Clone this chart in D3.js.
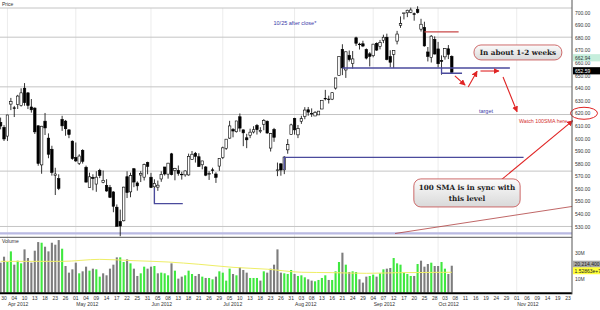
<!DOCTYPE html>
<html>
<head>
<meta charset="utf-8">
<script src="https://cdn.jsdelivr.net/npm/d3@7"></script>
<style>
  body { margin: 0; background: #fff; }
  text { font-family: "Liberation Sans", Arial, sans-serif; }
</style>
</head>
<body>
<svg></svg>
<script>
// trading days shown on the x axis (2012), past bars plus the projected days to Nov 23
var dates = [
  "3/29","3/30",
  "4/2","4/3","4/4","4/5","4/9","4/10","4/11","4/12","4/13","4/16","4/17","4/18","4/19","4/20","4/23","4/24","4/25","4/26","4/27","4/30",
  "5/1","5/2","5/3","5/4","5/7","5/8","5/9","5/10","5/11","5/14","5/15","5/16","5/17","5/18","5/21","5/22","5/23","5/24","5/25","5/29","5/30","5/31",
  "6/1","6/4","6/5","6/6","6/7","6/8","6/11","6/12","6/13","6/14","6/15","6/18","6/19","6/20","6/21","6/22","6/25","6/26","6/27","6/28","6/29",
  "7/2","7/3","7/5","7/6","7/9","7/10","7/11","7/12","7/13","7/16","7/17","7/18","7/19","7/20","7/23","7/24","7/25","7/26","7/27","7/30","7/31",
  "8/1","8/2","8/3","8/6","8/7","8/8","8/9","8/10","8/13","8/14","8/15","8/16","8/17","8/20","8/21","8/22","8/23","8/24","8/27","8/28","8/29","8/30","8/31",
  "9/4","9/5","9/6","9/7","9/10","9/11","9/12","9/13","9/14","9/17","9/18","9/19","9/20","9/21","9/24","9/25","9/26","9/27","9/28",
  "10/1","10/2","10/3","10/4","10/5","10/8","10/9","10/10","10/11","10/12","10/15","10/16","10/17","10/18","10/19","10/22","10/23","10/24","10/25","10/26","10/29","10/30","10/31",
  "11/1","11/2","11/5","11/6","11/7","11/8","11/9","11/12","11/13","11/14","11/15","11/16","11/19","11/20","11/21","11/23"
];

var open = [612.78,608.77,601.83,627.30,624.35,626.98,626.13,639.93,636.20,625.00,624.11,610.06,578.94,613.72,600.22,591.38,570.61,568.00,615.06,613.76,606.81,597.80,
  584.90,580.09,590.50,577.08,561.00,569.00,563.70,574.57,565.00,562.57,561.00,557.46,545.31,533.96,534.50,569.55,557.50,575.87,564.59,570.90,569.20,580.74,
  569.16,561.50,561.27,567.77,577.29,571.60,587.72,574.46,574.52,571.24,571.00,570.96,583.40,588.21,585.44,579.04,577.30,571.67,575.00,571.71,578.00,
  584.73,592.16,600.24,607.09,605.30,617.22,606.81,600.50,602.55,605.12,610.36,605.35,611.28,613.67,592.31,607.09,574.46,579.76,575.01,590.92,603.23,
  615.91,602.84,613.63,617.29,622.77,619.39,617.85,618.71,623.39,631.87,631.30,631.21,640.00,650.01,670.82,654.42,666.11,659.51,679.99,674.98,675.25,670.64,667.25,
  665.76,675.57,673.17,678.05,680.45,665.11,666.85,677.37,689.96,699.35,699.88,700.26,699.16,702.41,686.86,688.26,668.74,664.29,678.75,
  671.16,661.81,664.86,671.25,665.20];
var high = [616.56,610.56,618.77,632.21,625.86,634.66,639.84,644.00,636.87,631.33,624.70,610.28,610.00,620.25,604.00,594.16,576.67,571.48,618.00,614.69,607.25,598.40,
  596.76,587.40,591.40,578.36,572.77,571.50,573.88,575.88,574.47,567.55,563.00,558.00,547.50,543.41,561.54,573.88,572.80,576.50,565.85,574.00,579.99,581.50,
  572.65,567.50,566.47,573.85,577.32,580.58,588.50,576.62,578.48,573.50,574.62,587.89,590.00,589.25,588.22,582.19,578.00,573.93,576.74,573.12,584.00,
  593.47,599.43,614.00,608.23,613.90,619.87,607.00,603.65,607.72,609.68,611.50,608.92,615.35,614.23,604.34,608.37,580.80,580.40,585.83,599.44,611.70,
  616.40,610.69,617.98,624.87,625.00,623.88,621.73,621.76,630.00,638.61,634.00,636.76,648.19,665.15,674.88,669.00,669.90,669.48,680.87,676.10,677.67,671.55,668.60,
  675.14,676.35,678.29,682.48,683.29,670.10,669.90,685.50,696.98,699.80,702.33,703.99,700.06,705.07,695.12,692.78,672.69,682.17,681.11,
  676.75,666.00,671.86,674.25,666.00];
var low = [607.23,597.94,598.02,622.51,617.00,623.40,625.30,626.00,623.34,620.50,603.51,578.25,571.91,602.71,584.24,570.42,555.00,558.92,606.00,602.13,600.21,583.00,
  581.23,578.86,580.00,565.17,561.00,558.73,557.55,568.44,564.35,557.60,552.59,541.30,530.12,522.18,534.05,552.58,553.23,561.23,558.47,565.31,566.56,571.46,
  560.52,548.50,558.33,565.50,570.50,568.00,570.63,566.70,570.38,567.26,569.55,570.37,583.10,580.80,577.44,575.42,570.00,567.00,571.92,564.62,574.25,
  583.60,590.88,599.70,600.89,604.70,605.31,593.85,592.27,600.21,603.96,603.08,604.18,606.51,603.76,589.58,597.30,570.00,570.36,571.59,587.82,603.00,
  603.00,600.25,611.56,615.26,618.04,617.10,617.80,618.70,623.25,630.21,627.75,630.50,638.81,649.90,650.33,648.11,661.15,655.55,673.54,670.67,672.60,662.85,657.25,
  664.50,669.60,670.80,675.77,662.10,656.50,656.00,674.77,687.89,694.61,696.42,699.57,693.62,699.36,685.00,673.00,661.20,660.35,666.75,
  656.50,650.66,662.63,663.07,651.28];
var close = [609.86,599.55,618.63,629.32,624.31,633.68,636.23,628.44,626.20,622.77,605.23,580.13,609.70,608.34,587.44,572.98,571.70,560.28,610.00,607.70,603.00,583.98,
  582.13,585.98,581.82,565.25,569.48,568.18,569.18,570.52,566.71,558.22,553.17,546.08,530.12,530.38,561.28,556.97,570.56,565.32,562.29,572.27,579.17,577.73,
  560.99,564.29,562.83,571.46,571.72,580.32,571.17,576.16,572.16,571.53,574.13,585.78,587.41,585.74,577.67,582.10,570.77,572.02,574.50,569.05,584.00,
  592.52,599.41,609.94,605.88,613.89,608.21,604.43,598.90,604.97,606.91,606.94,606.26,614.32,604.30,603.83,600.92,574.97,574.88,585.16,595.03,610.76,
  606.81,607.79,615.70,622.55,620.91,619.86,620.73,621.70,630.00,631.69,630.83,636.34,648.11,665.15,656.06,668.87,662.63,663.22,675.68,674.80,673.47,663.87,665.24,
  674.97,670.23,676.27,680.44,662.74,660.59,669.79,682.98,691.28,699.78,701.91,702.10,698.70,700.09,690.79,673.54,665.18,681.32,667.10,
  659.39,661.31,671.45,666.80,652.59];
// volume in millions of shares
var volume = [22.5,27,23,31,21,24,22,32.5,26,22.5,31.5,38,37.5,34.5,31,37.5,36,39.5,33,20,15,17.5,
  22.5,14.5,16,19.5,16.5,18,17.5,12,14.5,13,18,21,26.5,26.5,23,25,22,18,12.5,14.5,19.5,18,
  19.5,20,14.5,15,14.5,13,22,16.5,10.5,12,13,16.5,14,12.5,14,12,11,11,10,12,16,
  15,9,18,14,13,19,17,15,11,11,11,9,16,15,18,21,32.5,15,14.5,14,17,
  14,12.5,13,11.5,10,9,8.5,9.5,11,13,9.5,9.5,16,23,30,21,15.5,16,15.5,10,7.5,12,12.5,
  13.5,12,14.5,17.5,18,18.5,26,22,21,15,14,12.5,12.5,21.5,24,19.5,21.5,22.5,20,
  20,23,18,14,20.21];
// volume moving average, read at a few days (day index, millions)
var volMaDay = [0, 18, 29, 39, 49, 58, 68, 78, 88, 97, 107, 117, 132];
var volMa = [23.5, 23.5, 25, 24, 23, 21.3, 19, 17.6, 15.3, 15, 14.5, 15, 15.29];

var priceTicks = d3.range(530, 701, 10);
var volTicks = [10, 30];
var priceTags = [662.94, 652.59];
var lastVolume = 20214400, lastVolMa = 15286300;

// drawn annotations, in (day index, price)
var hLevels = [680.5, 641, 619, 574, 530];
var blueLines = [
  [[100, 656], [149, 656]],
  [[129, 656], [129, 651.8], [135, 651.8]],
  [[83, 575], [83, 585], [153, 585]],
  [[45, 560.6], [45, 548.1], [53.3, 548.1]]
];
var redLine = [[124, 684.7], [134, 684.7]];
var redArrows = [
  [[132.9, 649.7], [135.9, 642.4]],
  [[136.8, 640.9], [139.4, 653.4]],
  [[140.4, 653.6], [145.8, 653.6]],
  [[147.0, 648.9], [151.1, 621.2]],
  [[146.1, 566.2], [167.4, 614.2]]
];
var trendLine = [[115.4, 524.4], [167.2, 545.9]];

var svg = d3.select("svg").attr("width", 600).attr("height", 310);
var n = dates.length;
var parse = d3.timeParse("%m/%d/%Y");
var days = dates.map(function (s) { return parse(s + "/2012"); });

var xb = d3.scaleBand().domain(d3.range(n)).range([-1.1, 569.7]);
var xi = d3.scaleLinear().domain([0, n - 1])
  .range([xb(0) + xb.bandwidth() / 2, xb(n - 1) + xb.bandwidth() / 2]);
var y = d3.scaleLinear().domain([524.8, 703.7]).range([233, 8]);
var yv = d3.scaleLinear().domain([0, 40]).range([292.6, 239.4]);

var defs = svg.append("defs");
defs.append("marker").attr("id", "ah").attr("viewBox", "0 0 10 10")
  .attr("refX", 9).attr("refY", 5).attr("markerWidth", 5.5).attr("markerHeight", 5.5)
  .attr("orient", "auto")
  .append("path").attr("d", "M0,0L10,5L0,10z").attr("fill", "#e02424");
var grad = defs.append("linearGradient").attr("id", "boxg")
  .attr("x1", 0).attr("y1", 0).attr("x2", 0).attr("y2", 1);
grad.append("stop").attr("offset", "0%").attr("stop-color", "#fbfbfb");
grad.append("stop").attr("offset", "100%").attr("stop-color", "#d9d9d9");

// month grid lines
var monthStarts = d3.range(1, n).filter(function (i) { return days[i].getMonth() != days[i - 1].getMonth(); });
svg.append("g").selectAll("line").data(monthStarts).join("line")
  .attr("x1", function (i) { return xi(i); }).attr("x2", function (i) { return xi(i); })
  .attr("y1", 8).attr("y2", 292).attr("stroke", "#ececec");

// horizontal level lines
svg.append("g").selectAll("line").data(hLevels).join("line")
  .attr("x1", 0).attr("x2", 572).attr("y1", function (d) { return y(d); }).attr("y2", function (d) { return y(d); })
  .attr("stroke", "#c4c4c4");
svg.append("line").attr("x1", 0).attr("x2", 572).attr("y1", 8).attr("y2", 8).attr("stroke", "#c4c4c4");
svg.append("line").attr("x1", 0).attr("x2", 572).attr("y1", 233.3).attr("y2", 233.3)
  .attr("stroke", "#b9b9e2").attr("stroke-width", 2.2);

svg.append("text").attr("x", 2).attr("y", 6).attr("font-size", 5).attr("fill", "#333").text("Price");

// candles
var candles = close.map(function (c, i) { return { i: i, o: open[i], h: high[i], l: low[i], c: c }; });
var cg = svg.append("g");
cg.selectAll("line").data(candles).join("line")
  .attr("x1", function (d) { return xi(d.i); }).attr("x2", function (d) { return xi(d.i); })
  .attr("y1", function (d) { return y(d.h); }).attr("y2", function (d) { return y(d.l); })
  .attr("stroke", "#000").attr("stroke-width", 0.8);
var bw = 2.5;
cg.selectAll("rect").data(candles).join("rect")
  .attr("x", function (d) { return xi(d.i) - bw / 2; })
  .attr("y", function (d) { return y(Math.max(d.o, d.c)); })
  .attr("width", bw)
  .attr("height", function (d) { return Math.max(0.6, Math.abs(y(d.o) - y(d.c))); })
  .attr("fill", function (d) { return d.c >= d.o ? "#fff" : "#000"; })
  .attr("stroke", "#000").attr("stroke-width", 0.6);

// annotations
var line = d3.line().x(function (p) { return xi(p[0]); }).y(function (p) { return y(p[1]); });
svg.append("g").selectAll("path").data(blueLines).join("path")
  .attr("d", line).attr("fill", "none").attr("stroke", "#4a4a9c").attr("stroke-width", 1.3);
svg.append("path").attr("d", line(redLine)).attr("stroke", "#c84848").attr("stroke-width", 1.3);
svg.append("path").attr("d", line(trendLine)).attr("stroke", "#b04040").attr("stroke-width", 0.8);
svg.append("g").selectAll("path").data(redArrows).join("path")
  .attr("d", line).attr("fill", "none").attr("stroke", "#e02424").attr("stroke-width", 1.1)
  .attr("marker-end", "url(#ah)");

svg.append("text").attr("x", xi(86.1)).attr("y", y(689.8)).attr("text-anchor", "middle")
  .attr("font-size", 5.5).attr("fill", "#3a3aa8").text("10/25 after close*");
svg.append("text").attr("x", xi(142)).attr("y", y(620.4)).attr("text-anchor", "middle")
  .attr("font-size", 5.5).attr("fill", "#3a3aa8").text("target");
svg.append("text").attr("x", xi(165.8)).attr("y", y(612.4)).attr("text-anchor", "end")
  .attr("font-size", 5.3).attr("fill", "#d43030").text("Watch 100SMA here");

function note(i0, i1, p0, p1, lines) {
  var g = svg.append("g");
  g.append("rect").attr("x", xi(i0)).attr("y", y(p0)).attr("width", xi(i1) - xi(i0)).attr("height", y(p1) - y(p0))
    .attr("rx", 7).attr("fill", "url(#boxg)").attr("stroke", "#c85a5a").attr("stroke-width", 0.9);
  var cx = (xi(i0) + xi(i1)) / 2, cy = (y(p0) + y(p1)) / 2;
  var lh = 11;
  g.selectAll("text").data(lines).join("text")
    .attr("x", cx).attr("y", function (d, k) { return cy + (k - (lines.length - 1) / 2) * lh + 2.5; })
    .attr("text-anchor", "middle")
    .style("font-family", "'DejaVu Serif', serif").style("font-weight", "bold")
    .attr("font-size", 7.2).attr("fill", "#222").text(function (d) { return d; });
}
note(138.5, 164.2, 674.3, 662.4, ["In about 1-2 weeks"]);
note(120.9, 152, 567.8, 545.5, ["100 SMA is in sync with", "this level"]);

// price axis
var ya = svg.append("g").attr("transform", "translate(572,0)")
  .call(d3.axisRight(y).tickValues(priceTicks).tickFormat(d3.format(".2f")).tickSize(0).tickPadding(3));
ya.select(".domain").remove();
ya.selectAll("text").attr("font-size", 5).attr("fill", "#333").style("font-family", "'Liberation Sans', Arial, sans-serif");

var tagBg = ["#c6eedc", "#000"], tagFg = ["#333", "#fff"];
priceTags.forEach(function (v, k) {
  var yy = y(v) - 1.5;
  svg.append("rect").attr("x", 573).attr("y", yy - 3.6).attr("width", 27).attr("height", 7.2).attr("fill", tagBg[k]);
  svg.append("text").attr("x", 575).attr("y", yy + 1.8).attr("font-size", 5).attr("fill", tagFg[k])
    .text(d3.format(".2f")(v));
});
svg.append("ellipse").attr("cx", 584).attr("cy", y(620)).attr("rx", 13.5).attr("ry", 6)
  .attr("fill", "none").attr("stroke", "#e02424").attr("stroke-width", 1);

// volume panel
svg.append("line").attr("x1", 0).attr("x2", 572).attr("y1", 237.3).attr("y2", 237.3).attr("stroke", "#555");
svg.append("text").attr("x", 2).attr("y", 243).attr("font-size", 5).attr("fill", "#333").text("Volume");

svg.append("g").selectAll("rect").data(volume).join("rect")
  .attr("x", function (d, i) { return xi(i) - 1.05; })
  .attr("y", function (d) { return yv(d); })
  .attr("width", 2.1)
  .attr("height", function (d) { return yv(0) - yv(d); })
  .attr("fill", function (d, i) {
    var up = i == 0 ? close[0] >= open[0] : close[i] >= close[i - 1];
    return up ? "#3fe83f" : "#7d7d7d";
  });

var maLine = d3.line().curve(d3.curveMonotoneX)
  .x(function (d, k) { return xi(volMaDay[k]); }).y(function (d) { return yv(d); });
svg.append("path").attr("d", maLine(volMa)).attr("fill", "none").attr("stroke", "#eeee66").attr("stroke-width", 1);

var va = svg.append("g").attr("transform", "translate(572,0)")
  .call(d3.axisRight(yv).tickValues(volTicks).tickFormat(function (d) { return d + "M"; }).tickSize(0).tickPadding(3));
va.select(".domain").remove();
va.selectAll("text").attr("font-size", 5).attr("fill", "#333").style("font-family", "'Liberation Sans', Arial, sans-serif");

[[lastVolume / 1e6, d3.format(",")(lastVolume), "#a8a8a8"], [lastVolMa / 1e6, lastVolMa.toExponential(5), "#ffff3a"]]
  .forEach(function (t) {
    var yy = yv(t[0]) - 1.5;
    svg.append("rect").attr("x", 573).attr("y", yy - 3.5).attr("width", 27).attr("height", 7).attr("fill", t[2]);
    svg.append("text").attr("x", 574.5).attr("y", yy + 1.8).attr("font-size", 5).attr("fill", "#222").text(t[1]);
  });

// frame
svg.append("line").attr("x1", 0).attr("x2", 572).attr("y1", 293.3).attr("y2", 293.3).attr("stroke", "#000").attr("stroke-width", 2);
svg.append("line").attr("x1", 572).attr("x2", 572).attr("y1", 0).attr("y2", 294.3).attr("stroke", "#555");

// date axis
var xa = svg.append("g").attr("transform", "translate(0,294.5)")
  .call(d3.axisBottom(xb).tickValues(d3.range(n).filter(function (i) { return i % 3 == 1; }))
    .tickFormat(function (i) { return d3.timeFormat("%d")(days[i]); }).tickSize(0).tickPadding(2.2));
xa.select(".domain").remove();
xa.selectAll("text").attr("font-size", 5).attr("fill", "#333").style("font-family", "'Liberation Sans', Arial, sans-serif");

svg.append("g").selectAll("text").data(monthStarts).join("text")
  .attr("x", function (i) { return xi(i) + 0.5; }).attr("y", 305.5)
  .attr("font-size", 5).attr("fill", "#333")
  .text(function (i) { return d3.timeFormat("%b %Y")(days[i]); });
</script>
</body>
</html>
